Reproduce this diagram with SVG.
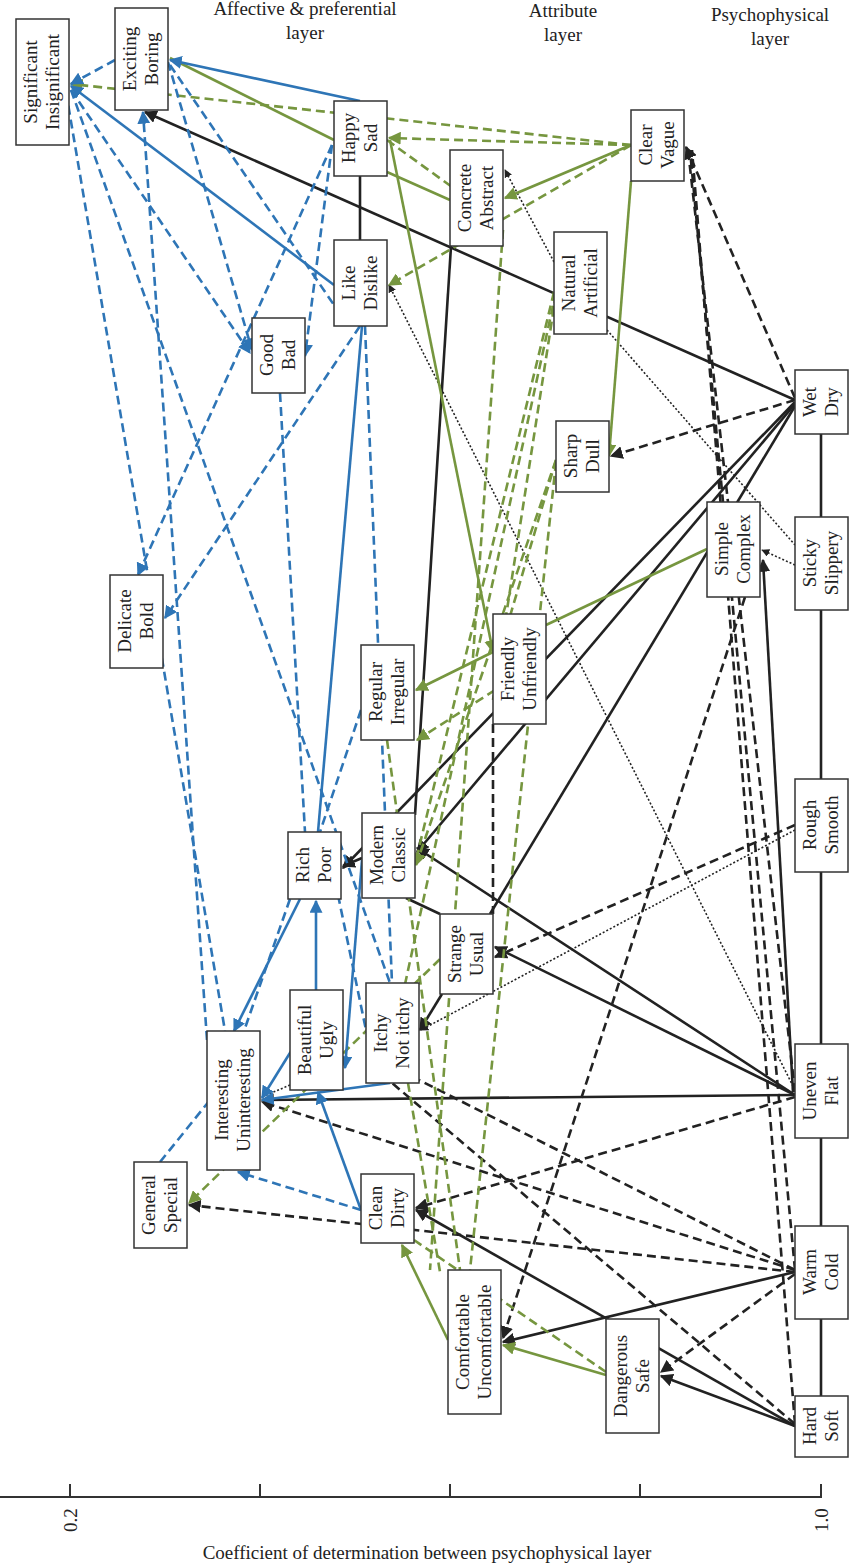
<svg xmlns="http://www.w3.org/2000/svg" width="850" height="1564" viewBox="0 0 850 1564">
<style>
.n rect{fill:#fff;stroke:#333;stroke-width:1.5}
.n text,.t{font-family:"Liberation Serif",serif;font-size:19px;fill:#222;text-anchor:middle}
.e line{fill:none;stroke-width:2.6}
.k{stroke:#222}.b{stroke:#2E75B6}.g{stroke:#76963F}
.d{stroke-dasharray:9,5}.o{stroke-dasharray:2,2;stroke-width:1.6!important}
.ka{marker-end:url(#mk)}.ba{marker-end:url(#mb)}.ga{marker-end:url(#mg)}
</style>
<defs>
<marker id="mk" viewBox="0 0 10 10" refX="9" refY="5" markerWidth="5" markerHeight="5" orient="auto"><path d="M0,0L10,5L0,10z" fill="#222"/></marker>
<marker id="mb" viewBox="0 0 10 10" refX="9" refY="5" markerWidth="5" markerHeight="5" orient="auto"><path d="M0,0L10,5L0,10z" fill="#2E75B6"/></marker>
<marker id="mg" viewBox="0 0 10 10" refX="9" refY="5" markerWidth="5" markerHeight="5" orient="auto"><path d="M0,0L10,5L0,10z" fill="#76963F"/></marker>
</defs>
<rect width="850" height="1564" fill="#fff"/>
<g id="headers">
<text class="t" x="305" y="15">Affective &amp; preferential</text><text class="t" x="305" y="39">layer</text>
<text class="t" x="563" y="17">Attribute</text><text class="t" x="563" y="41">layer</text>
<text class="t" x="770" y="21">Psychophysical</text><text class="t" x="770" y="45">layer</text>
</g>
<g id="axis" stroke="#333" stroke-width="2" fill="none">
<line x1="0" y1="1497" x2="822" y2="1497"/>
<line x1="70" y1="1484" x2="70" y2="1497"/><line x1="260" y1="1484" x2="260" y2="1497"/><line x1="450" y1="1484" x2="450" y2="1497"/><line x1="640" y1="1484" x2="640" y2="1497"/><line x1="821" y1="1484" x2="821" y2="1497"/>
</g>
<text class="t" transform="translate(77,1520) rotate(-90)">0.2</text>
<text class="t" transform="translate(828,1520) rotate(-90)">1.0</text>
<text class="t" x="427" y="1559">Coefficient of determination between psychophysical layer</text>
<g id="connectors" class="e">
<line class="k" x1="821" y1="434" x2="821" y2="1396"/>
<line class="k" x1="360" y1="176" x2="360" y2="240"/>
<line class="k ka" x1="795" y1="400" x2="145" y2="112"/>
<line class="k ka" x1="795" y1="402" x2="343" y2="868"/>
<line class="k ka" x1="795" y1="404" x2="417" y2="852"/>
<line class="k" x1="795" y1="406" x2="490" y2="914"/>
<line class="k ka" x1="795" y1="1095" x2="417" y2="848"/>
<line class="k ka" x1="795" y1="1095" x2="495" y2="947"/>
<line class="k ka" x1="795" y1="1095" x2="262" y2="1100"/>
<line class="k ka" x1="793" y1="1092" x2="763" y2="560"/>
<line class="k" x1="451" y1="246" x2="415" y2="815"/>
<line class="k ka" x1="362" y1="858" x2="343" y2="866"/>
<line class="k" x1="406" y1="898" x2="440" y2="914"/>
<line class="k ka" x1="442" y1="994" x2="420" y2="1030"/>
<line class="k ka" x1="795" y1="1272" x2="503" y2="1342"/>
<line class="k ka" x1="795" y1="1426" x2="416" y2="1210"/>
<line class="k ka" x1="795" y1="1426" x2="661" y2="1376"/>
<line class="k d ka" x1="795" y1="400" x2="611" y2="456"/>
<line class="k d ka" x1="795" y1="398" x2="686" y2="147"/>
<line class="k d" x1="795" y1="1092" x2="688" y2="150"/>
<line class="k d" x1="795" y1="1270" x2="690" y2="150"/>
<line class="k d" x1="795" y1="1424" x2="692" y2="150"/>
<line class="k d ka" x1="745" y1="597" x2="503" y2="1338"/>
<line class="k d ka" x1="795" y1="825" x2="495" y2="957"/>
<line class="k d ka" x1="795" y1="1097" x2="416" y2="1208"/>
<line class="k d ka" x1="795" y1="1270" x2="262" y2="1102"/>
<line class="k d" x1="795" y1="1270" x2="419" y2="1080"/>
<line class="k d ka" x1="795" y1="1272" x2="189" y2="1205"/>
<line class="k d ka" x1="795" y1="1274" x2="661" y2="1372"/>
<line class="k d" x1="795" y1="1424" x2="392" y2="1083"/>
<line class="k d" x1="493" y1="724" x2="493" y2="914"/>
<line class="k o ka" x1="554" y1="262" x2="505" y2="170"/>
<line class="k o" x1="607" y1="330" x2="795" y2="545"/>
<line class="k o ka" x1="795" y1="565" x2="762" y2="550"/>
<line class="k o ka" x1="795" y1="1090" x2="389" y2="285"/>
<line class="k o ka" x1="795" y1="830" x2="421" y2="1030"/>
<line class="k o" x1="290" y1="1085" x2="262" y2="1097"/>
<line class="g" x1="334" y1="140" x2="170" y2="58"/>
<line class="g" x1="387" y1="172" x2="450" y2="200"/>
<line class="g ga" x1="390" y1="140" x2="493" y2="652"/>
<line class="g ga" x1="631" y1="145" x2="505" y2="198"/>
<line class="g ga" x1="631" y1="181" x2="609" y2="456"/>
<line class="g" x1="707" y1="549" x2="546" y2="625"/>
<line class="g ga" x1="493" y1="652" x2="416" y2="690"/>
<line class="g ga" x1="448" y1="1340" x2="402" y2="1245"/>
<line class="g ga" x1="606" y1="1375" x2="503" y2="1345"/>
<line class="g d ga" x1="631" y1="145" x2="389" y2="138"/>
<line class="g d ga" x1="631" y1="145" x2="71" y2="84"/>
<line class="g d ga" x1="631" y1="145" x2="389" y2="285"/>
<line class="g d" x1="387" y1="140" x2="470" y2="200"/>
<line class="g d" x1="554" y1="292" x2="416" y2="860"/>
<line class="g d" x1="556" y1="292" x2="395" y2="1030"/>
<line class="g d" x1="556" y1="294" x2="493" y2="700"/>
<line class="g d" x1="503" y1="230" x2="430" y2="1270"/>
<line class="g d ga" x1="556" y1="460" x2="416" y2="865"/>
<line class="g d" x1="556" y1="462" x2="470" y2="1270"/>
<line class="g d ga" x1="556" y1="460" x2="503" y2="640"/>
<line class="g d" x1="387" y1="740" x2="460" y2="1270"/>
<line class="g d ga" x1="470" y1="930" x2="189" y2="1203"/>
<line class="g d" x1="414" y1="1240" x2="606" y2="1372"/>
<line class="g d" x1="408" y1="1083" x2="440" y2="1272"/>
<line class="g d ga" x1="495" y1="690" x2="417" y2="740"/>
<line class="b ba" x1="360" y1="101" x2="170" y2="60"/>
<line class="b ba" x1="334" y1="285" x2="71" y2="86"/>
<line class="b" x1="362" y1="326" x2="318" y2="832"/>
<line class="b ba" x1="300" y1="899" x2="234" y2="1031"/>
<line class="b ba" x1="316" y1="990" x2="316" y2="901"/>
<line class="b ba" x1="362" y1="860" x2="345" y2="1068"/>
<line class="b ba" x1="298" y1="1040" x2="262" y2="1098"/>
<line class="b ba" x1="390" y1="1083" x2="262" y2="1100"/>
<line class="b ba" x1="361" y1="1210" x2="318" y2="1092"/>
<line class="b d ba" x1="115" y1="60" x2="71" y2="84"/>
<line class="b d ba" x1="71" y1="90" x2="250" y2="353"/>
<line class="b d" x1="71" y1="90" x2="390" y2="983"/>
<line class="b d ba" x1="207" y1="1040" x2="143" y2="112"/>
<line class="b d" x1="66" y1="92" x2="225" y2="1031"/>
<line class="b d ba" x1="168" y1="62" x2="252" y2="350"/>
<line class="b d" x1="170" y1="65" x2="334" y2="305"/>
<line class="b d ba" x1="332" y1="145" x2="305" y2="356"/>
<line class="b d ba" x1="332" y1="145" x2="138" y2="575"/>
<line class="b d ba" x1="360" y1="326" x2="165" y2="618"/>
<line class="b d" x1="280" y1="393" x2="305" y2="832"/>
<line class="b d" x1="365" y1="326" x2="392" y2="983"/>
<line class="b d" x1="361" y1="710" x2="320" y2="832"/>
<line class="b d" x1="290" y1="899" x2="244" y2="1031"/>
<line class="b d" x1="338" y1="895" x2="366" y2="1030"/>
<line class="b d ba" x1="361" y1="1210" x2="238" y2="1172"/>
<line class="b d" x1="160" y1="1162" x2="210" y2="1100"/>
</g>
<g class="n" id="n-significant"><rect x="16" y="19" width="53" height="126"/><text transform="translate(42,82) rotate(-90)"><tspan x="0" y="-5">Significant</tspan><tspan x="0" y="17">Insignificant</tspan></text></g>
<g class="n" id="n-exciting"><rect x="115" y="8" width="53" height="102"/><text transform="translate(141,59) rotate(-90)"><tspan x="0" y="-5">Exciting</tspan><tspan x="0" y="17">Boring</tspan></text></g>
<g class="n" id="n-happy"><rect x="334" y="101" width="53" height="75"/><text transform="translate(360,138) rotate(-90)"><tspan x="0" y="-5">Happy</tspan><tspan x="0" y="17">Sad</tspan></text></g>
<g class="n" id="n-like"><rect x="334" y="240" width="53" height="86"/><text transform="translate(360,283) rotate(-90)"><tspan x="0" y="-5">Like</tspan><tspan x="0" y="17">Dislike</tspan></text></g>
<g class="n" id="n-good"><rect x="252" y="318" width="53" height="75"/><text transform="translate(278,355) rotate(-90)"><tspan x="0" y="-5">Good</tspan><tspan x="0" y="17">Bad</tspan></text></g>
<g class="n" id="n-delicate"><rect x="110" y="575" width="53" height="93"/><text transform="translate(136,621) rotate(-90)"><tspan x="0" y="-5">Delicate</tspan><tspan x="0" y="17">Bold</tspan></text></g>
<g class="n" id="n-concrete"><rect x="450" y="150" width="53" height="96"/><text transform="translate(476,198) rotate(-90)"><tspan x="0" y="-5">Concrete</tspan><tspan x="0" y="17">Abstract</tspan></text></g>
<g class="n" id="n-natural"><rect x="554" y="232" width="53" height="102"/><text transform="translate(580,283) rotate(-90)"><tspan x="0" y="-5">Natural</tspan><tspan x="0" y="17">Artificial</tspan></text></g>
<g class="n" id="n-clear"><rect x="631" y="110" width="53" height="71"/><text transform="translate(657,145) rotate(-90)"><tspan x="0" y="-5">Clear</tspan><tspan x="0" y="17">Vague</tspan></text></g>
<g class="n" id="n-sharp"><rect x="556" y="421" width="53" height="71"/><text transform="translate(582,456) rotate(-90)"><tspan x="0" y="-5">Sharp</tspan><tspan x="0" y="17">Dull</tspan></text></g>
<g class="n" id="n-wet"><rect x="795" y="370" width="53" height="64"/><text transform="translate(821,402) rotate(-90)"><tspan x="0" y="-5">Wet</tspan><tspan x="0" y="17">Dry</tspan></text></g>
<g class="n" id="n-sticky"><rect x="795" y="517" width="53" height="93"/><text transform="translate(821,563) rotate(-90)"><tspan x="0" y="-5">Sticky</tspan><tspan x="0" y="17">Slippery</tspan></text></g>
<g class="n" id="n-simple"><rect x="707" y="502" width="53" height="95"/><text transform="translate(733,549) rotate(-90)"><tspan x="0" y="-5">Simple</tspan><tspan x="0" y="17">Complex</tspan></text></g>
<g class="n" id="n-friendly"><rect x="493" y="614" width="53" height="110"/><text transform="translate(519,669) rotate(-90)"><tspan x="0" y="-5">Friendly</tspan><tspan x="0" y="17">Unfriendly</tspan></text></g>
<g class="n" id="n-regular"><rect x="361" y="645" width="53" height="95"/><text transform="translate(387,692) rotate(-90)"><tspan x="0" y="-5">Regular</tspan><tspan x="0" y="17">Irregular</tspan></text></g>
<g class="n" id="n-rich"><rect x="288" y="832" width="53" height="67"/><text transform="translate(314,865) rotate(-90)"><tspan x="0" y="-5">Rich</tspan><tspan x="0" y="17">Poor</tspan></text></g>
<g class="n" id="n-modern"><rect x="362" y="813" width="53" height="85"/><text transform="translate(388,855) rotate(-90)"><tspan x="0" y="-5">Modern</tspan><tspan x="0" y="17">Classic</tspan></text></g>
<g class="n" id="n-rough"><rect x="795" y="779" width="53" height="93"/><text transform="translate(821,825) rotate(-90)"><tspan x="0" y="-5">Rough</tspan><tspan x="0" y="17">Smooth</tspan></text></g>
<g class="n" id="n-strange"><rect x="440" y="914" width="53" height="80"/><text transform="translate(466,954) rotate(-90)"><tspan x="0" y="-5">Strange</tspan><tspan x="0" y="17">Usual</tspan></text></g>
<g class="n" id="n-beautiful"><rect x="290" y="990" width="53" height="100"/><text transform="translate(316,1040) rotate(-90)"><tspan x="0" y="-5">Beautiful</tspan><tspan x="0" y="17">Ugly</tspan></text></g>
<g class="n" id="n-itchy"><rect x="366" y="983" width="53" height="100"/><text transform="translate(392,1033) rotate(-90)"><tspan x="0" y="-5">Itchy</tspan><tspan x="0" y="17">Not itchy</tspan></text></g>
<g class="n" id="n-interesting"><rect x="207" y="1031" width="53" height="139"/><text transform="translate(233,1100) rotate(-90)"><tspan x="0" y="-5">Interesting</tspan><tspan x="0" y="17">Uninteresting</tspan></text></g>
<g class="n" id="n-uneven"><rect x="795" y="1044" width="53" height="94"/><text transform="translate(821,1091) rotate(-90)"><tspan x="0" y="-5">Uneven</tspan><tspan x="0" y="17">Flat</tspan></text></g>
<g class="n" id="n-general"><rect x="134" y="1162" width="53" height="86"/><text transform="translate(160,1205) rotate(-90)"><tspan x="0" y="-5">General</tspan><tspan x="0" y="17">Special</tspan></text></g>
<g class="n" id="n-clean"><rect x="361" y="1174" width="53" height="69"/><text transform="translate(387,1208) rotate(-90)"><tspan x="0" y="-5">Clean</tspan><tspan x="0" y="17">Dirty</tspan></text></g>
<g class="n" id="n-warm"><rect x="795" y="1226" width="53" height="93"/><text transform="translate(821,1272) rotate(-90)"><tspan x="0" y="-5">Warm</tspan><tspan x="0" y="17">Cold</tspan></text></g>
<g class="n" id="n-comfortable"><rect x="448" y="1270" width="53" height="144"/><text transform="translate(474,1342) rotate(-90)"><tspan x="0" y="-5">Comfortable</tspan><tspan x="0" y="17">Uncomfortable</tspan></text></g>
<g class="n" id="n-dangerous"><rect x="606" y="1319" width="53" height="114"/><text transform="translate(632,1376) rotate(-90)"><tspan x="0" y="-5">Dangerous</tspan><tspan x="0" y="17">Safe</tspan></text></g>
<g class="n" id="n-hard"><rect x="795" y="1396" width="53" height="61"/><text transform="translate(821,1426) rotate(-90)"><tspan x="0" y="-5">Hard</tspan><tspan x="0" y="17">Soft</tspan></text></g>
</svg>
